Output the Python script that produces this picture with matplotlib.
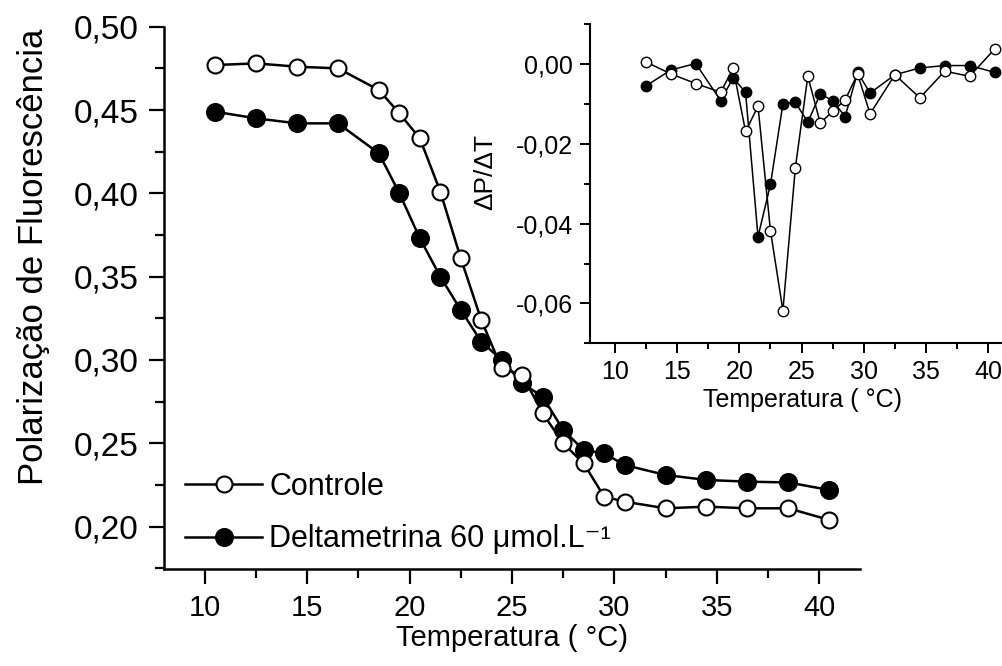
import matplotlib
matplotlib.use("Agg")
import matplotlib.pyplot as plt
from matplotlib.ticker import MultipleLocator, FuncFormatter

plt.rcParams['font.family'] = ['Liberation Sans', 'DejaVu Sans']

# main curve: polarization vs temperature
temp = [10.5, 12.5, 14.5, 16.5, 18.5, 19.5, 20.5, 21.5, 22.5, 23.5, 24.5,
        25.5, 26.5, 27.5, 28.5, 29.5, 30.5, 32.5, 34.5, 36.5, 38.5, 40.5]
controle = [0.477, 0.478, 0.476, 0.475, 0.462, 0.448, 0.433, 0.401, 0.361, 0.324, 0.295,
            0.291, 0.268, 0.250, 0.238, 0.218, 0.215, 0.211, 0.212, 0.211, 0.211, 0.204]
delta = [0.449, 0.445, 0.442, 0.442, 0.424, 0.400, 0.373, 0.350, 0.330, 0.311, 0.300,
         0.286, 0.278, 0.258, 0.246, 0.244, 0.237, 0.231, 0.228, 0.227, 0.2265, 0.222]

# inset: dP/dT
temp_d = [12.5, 14.5, 16.5, 18.5, 19.5, 20.5, 21.5, 22.5, 23.5, 24.5, 25.5,
          26.5, 27.5, 28.5, 29.5, 30.5, 32.5, 34.5, 36.5, 38.5, 40.5]
dctrl = [0.0005, -0.0025, -0.0049, -0.0071, -0.0011, -0.0169, -0.0106, -0.0418, -0.0618, -0.0260, -0.0031,
         -0.0148, -0.0119, -0.0090, -0.0025, -0.0125, -0.0027, -0.0085, -0.0018, -0.0031, 0.0037]
ddelta = [-0.0055, -0.0015, 0.0001, -0.0092, -0.0035, -0.0071, -0.0433, -0.0302, -0.0100, -0.0096, -0.0146,
          -0.0075, -0.0092, -0.0132, -0.0021, -0.0073, -0.0027, -0.0010, -0.0004, -0.0004, -0.0021]

comma = FuncFormatter(lambda v, p: f"{v:.2f}".replace(".", ","))

fig = plt.figure(figsize=(10.03, 6.66), dpi=100)
ax = fig.add_axes([0.1635, 0.1452, 0.6939, 0.8147])

ax.plot(temp, controle, '-o', color='black', lw=1.8, ms=11.5, mfc='white', mec='black', mew=1.5,
        label='Controle', zorder=3)
ax.plot(temp, delta, '-o', color='black', lw=1.8, ms=12.5, mfc='black', mec='black', mew=1.2,
        label='Deltametrina 60 μmol.L⁻¹', zorder=2)

ax.set_xlim(8, 42)
ax.set_ylim(0.1744, 0.50)
ax.xaxis.set_major_locator(MultipleLocator(5))
ax.xaxis.set_minor_locator(MultipleLocator(2.5))
ax.yaxis.set_major_locator(MultipleLocator(0.05))
ax.yaxis.set_minor_locator(MultipleLocator(0.025))
ax.yaxis.set_major_formatter(comma)
for s in ['top', 'right']:
    ax.spines[s].set_visible(False)
for s in ['left', 'bottom']:
    ax.spines[s].set_linewidth(1.8)
ax.tick_params(which='major', direction='out', length=11, width=1.6, pad=7)
ax.tick_params(which='minor', direction='out', length=6.5, width=1.6)
ax.tick_params(axis='x', labelsize=21)
ax.tick_params(axis='y', labelsize=24)
ax.set_xlabel('Temperatura ( °C)', fontsize=21)
ax.xaxis.set_label_coords(0.5, -0.1)
ax.set_ylabel('Polarização de Fluorescência', fontsize=25)
ax.yaxis.set_label_coords(-0.164, 0.575)

leg = ax.legend(loc='lower left', frameon=False, fontsize=22, handlelength=2.5,
                handletextpad=0.25, labelspacing=0.75, borderaxespad=0.3,
                bbox_to_anchor=(0.0, -0.012))

# inset
ins = fig.add_axes([0.5882, 0.4845, 0.4108, 0.4794])
ins.plot(temp_d, dctrl, '-o', color='black', lw=1.1, ms=7.5, mfc='white', mec='black', mew=1.0, zorder=3)
ins.plot(temp_d, ddelta, '-o', color='black', lw=1.1, ms=7.5, mfc='black', mec='black', mew=1.0, zorder=2)
ins.set_xlim(8, 41.1)
ins.set_ylim(-0.07, 0.01)
ins.xaxis.set_major_locator(MultipleLocator(5))
ins.xaxis.set_minor_locator(MultipleLocator(2.5))
ins.yaxis.set_major_locator(MultipleLocator(0.02))
ins.yaxis.set_minor_locator(MultipleLocator(0.01))
ins.yaxis.set_major_formatter(comma)
for s in ['top', 'right']:
    ins.spines[s].set_visible(False)
for s in ['left', 'bottom']:
    ins.spines[s].set_linewidth(1.5)
ins.tick_params(which='major', direction='out', length=7, width=1.4, labelsize=18, pad=5)
ins.tick_params(which='minor', direction='out', length=4.5, width=1.4)
ins.set_xlabel('Temperatura ( °C)', fontsize=18)
ins.xaxis.set_label_coords(0.515, -0.14)
ins.set_ylabel('ΔP/ΔT', fontsize=19)
ins.yaxis.set_label_coords(-0.226, 0.536)
ins.patch.set_alpha(0)

fig.savefig('out.png', dpi=100)
